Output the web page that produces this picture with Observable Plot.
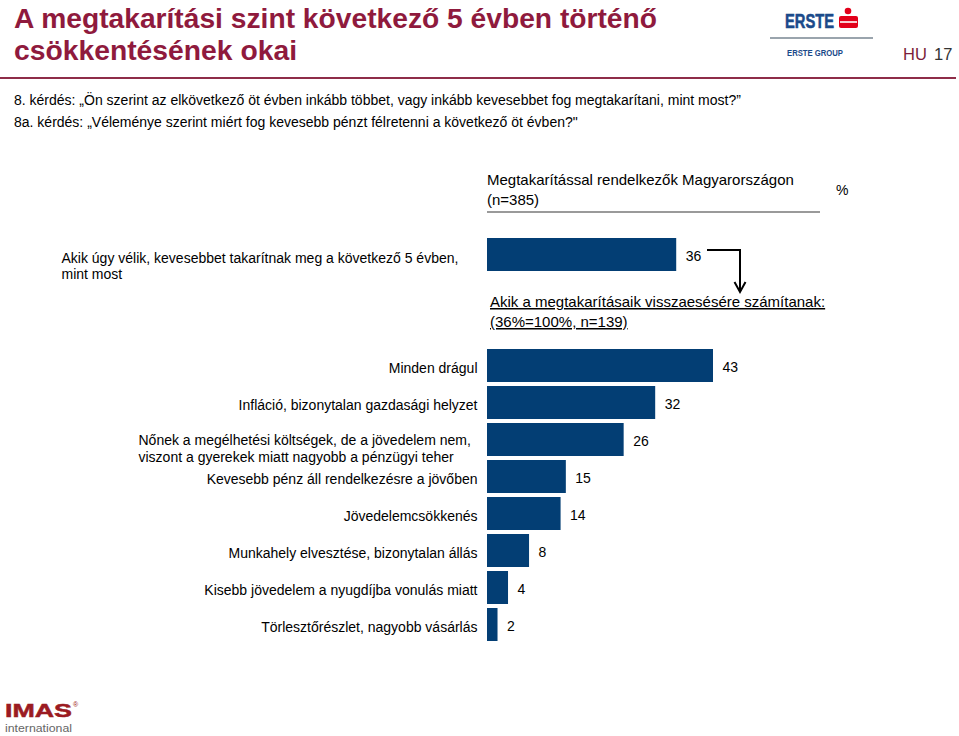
<!DOCTYPE html>
<html><head><meta charset="utf-8">
<script src="https://cdn.jsdelivr.net/npm/d3@7"></script>
<script src="https://cdn.jsdelivr.net/npm/@observablehq/plot@0.6"></script>
<style>
body{margin:0;background:#fff;width:959px;height:736px;overflow:hidden;position:relative;font-family:"Liberation Sans",Arial,sans-serif;}
#deco,#chart{position:absolute;left:0;top:0;}
#deco text{font-family:"Liberation Sans",Arial,sans-serif;}
</style></head><body>
<svg id="deco" width="959" height="736" xmlns="http://www.w3.org/2000/svg">
  <text x="14" y="27.5" font-size="28.5" font-weight="bold" fill="#8f1a3d" textLength="643" lengthAdjust="spacingAndGlyphs">A megtakarítási szint következő 5 évben történő</text>
  <text x="14" y="60" font-size="28.5" font-weight="bold" fill="#8f1a3d" textLength="283" lengthAdjust="spacingAndGlyphs">csökkentésének okai</text>
  <line x1="0" x2="956" y1="78" y2="78" stroke="#8e2d48" stroke-width="2"/>
  <text x="785" y="28" font-size="21" font-weight="bold" fill="#1b4a8a" textLength="49" lengthAdjust="spacingAndGlyphs" stroke="#1b4a8a" stroke-width="0.6">ERSTE</text>
  <circle cx="848" cy="11" r="3.3" fill="#e2001a"/>
  <rect x="839" y="16" width="19" height="12" rx="2" fill="#e2001a"/>
  <line x1="840" x2="857" y1="22" y2="22" stroke="#fff" stroke-width="1.6"/>
  <line x1="770" x2="873" y1="38" y2="38" stroke="#9aa4ad" stroke-width="2"/>
  <text x="787" y="56" font-size="8.5" font-weight="bold" fill="#1b4a8a" textLength="56" lengthAdjust="spacingAndGlyphs">ERSTE GROUP</text>
  <text x="903" y="60" font-size="16.5" fill="#7b1d3a">HU</text>
  <text x="934" y="60" font-size="16.5" fill="#333">17</text>
  <text x="14" y="105" font-size="14" fill="#000">8. kérdés:  „Ön szerint az elkövetkező öt évben inkább többet, vagy inkább kevesebbet fog megtakarítani, mint most?”</text>
  <text x="14" y="127" font-size="14" fill="#000">8a. kérdés: „Véleménye szerint miért fog kevesebb pénzt félretenni a következő öt évben?"</text>
  <text x="487" y="185" font-size="15" fill="#000">Megtakarítással rendelkezők Magyarországon</text>
  <text x="487" y="205" font-size="15" fill="#000">(n=385)</text>
  <line x1="487" x2="820" y1="212" y2="212" stroke="#9a9a9a" stroke-width="2"/>
  <text x="836" y="195" font-size="14" fill="#000">%</text>
  <polyline points="707,250 740,250 740,291" fill="none" stroke="#000" stroke-width="2"/>
  <polyline points="734.5,282 740,292 745.5,282" fill="none" stroke="#000" stroke-width="2"/>
  <text x="490" y="307" font-size="15" fill="#000" style="text-decoration:underline">Akik a megtakarításaik visszaesésére számítanak: </text>
  <text x="490" y="327" font-size="15" fill="#000" style="text-decoration:underline">(36%=100%, n=139)</text>
  <text x="5" y="717" font-size="19" font-weight="bold" fill="#9b1b22" textLength="67" lengthAdjust="spacingAndGlyphs" stroke="#9b1b22" stroke-width="0.5">IMAS</text>
  <text x="73" y="707" font-size="7" fill="#9b1b22">®</text>
  <text x="5" y="732" font-size="11.5" fill="#666" textLength="67" lengthAdjust="spacingAndGlyphs">international</text>
</svg>
<div id="chart"></div>
<script>
const topLabel = "Akik úgy vélik, kevesebbet takarítnak meg a következő 5 évben,\nmint most";
const topValue = 36;
const categories = [
  "Minden drágul",
  "Infláció, bizonytalan gazdasági helyzet",
  "Nőnek a megélhetési költségek, de a jövedelem nem,\nviszont a gyerekek miatt nagyobb a pénzügyi teher",
  "Kevesebb pénz áll rendelkezésre a jövőben",
  "Jövedelemcsökkenés",
  "Munkahely elvesztése, bizonytalan állás",
  "Kisebb jövedelem a nyugdíjba vonulás miatt",
  "Törlesztőrészlet, nagyobb vásárlás"
];
const values = [43, 32, 26, 15, 14, 8, 4, 2];

const gaps = ["_gap1", "_gap2"];
const domain = [topLabel, ...gaps, ...categories];
const mainData = categories.map((c, i) => ({cat: c, value: values[i]}));
const allData = [{cat: topLabel, value: topValue}, ...mainData];
const singleLine = mainData.filter(d => !d.cat.includes("\n"));
const multiLine = mainData.filter(d => d.cat.includes("\n"));

const chart = Plot.plot({
  width: 959,
  height: 736,
  margin: 0,
  x: {domain: [0, 43], range: [487, 713], axis: null},
  y: {type: "band", domain, range: [234, 645.4], paddingInner: 0.1, paddingOuter: 0.05, axis: null},
  style: {background: "transparent", fontFamily: "Liberation Sans, Arial, sans-serif", color: "#000"},
  marks: [
    Plot.barX(allData, {x: "value", y: "cat", fill: "#033e74"}),
    Plot.text(allData, {x: "value", y: "cat", text: d => String(d.value), textAnchor: "start", dx: 9, dy: 2, fontSize: 14, fill: "#000"}),
    Plot.text(singleLine, {x: 0, y: "cat", text: "cat", textAnchor: "end", dx: -10, dy: 3, fontSize: 14, fill: "#000"}),
    Plot.text(multiLine, {frameAnchor: "left", y: "cat", text: "cat", textAnchor: "start", dx: 138, dy: 8, fontSize: 14, lineHeight: 1.25, fill: "#000"}),
    Plot.text([topLabel], {frameAnchor: "left", y: d => d, text: d => d, textAnchor: "start", dx: 61, dy: 11, fontSize: 14, lineHeight: 1.15, fill: "#000"})
  ]
});
document.getElementById("chart").appendChild(chart);
</script>
</body></html>
